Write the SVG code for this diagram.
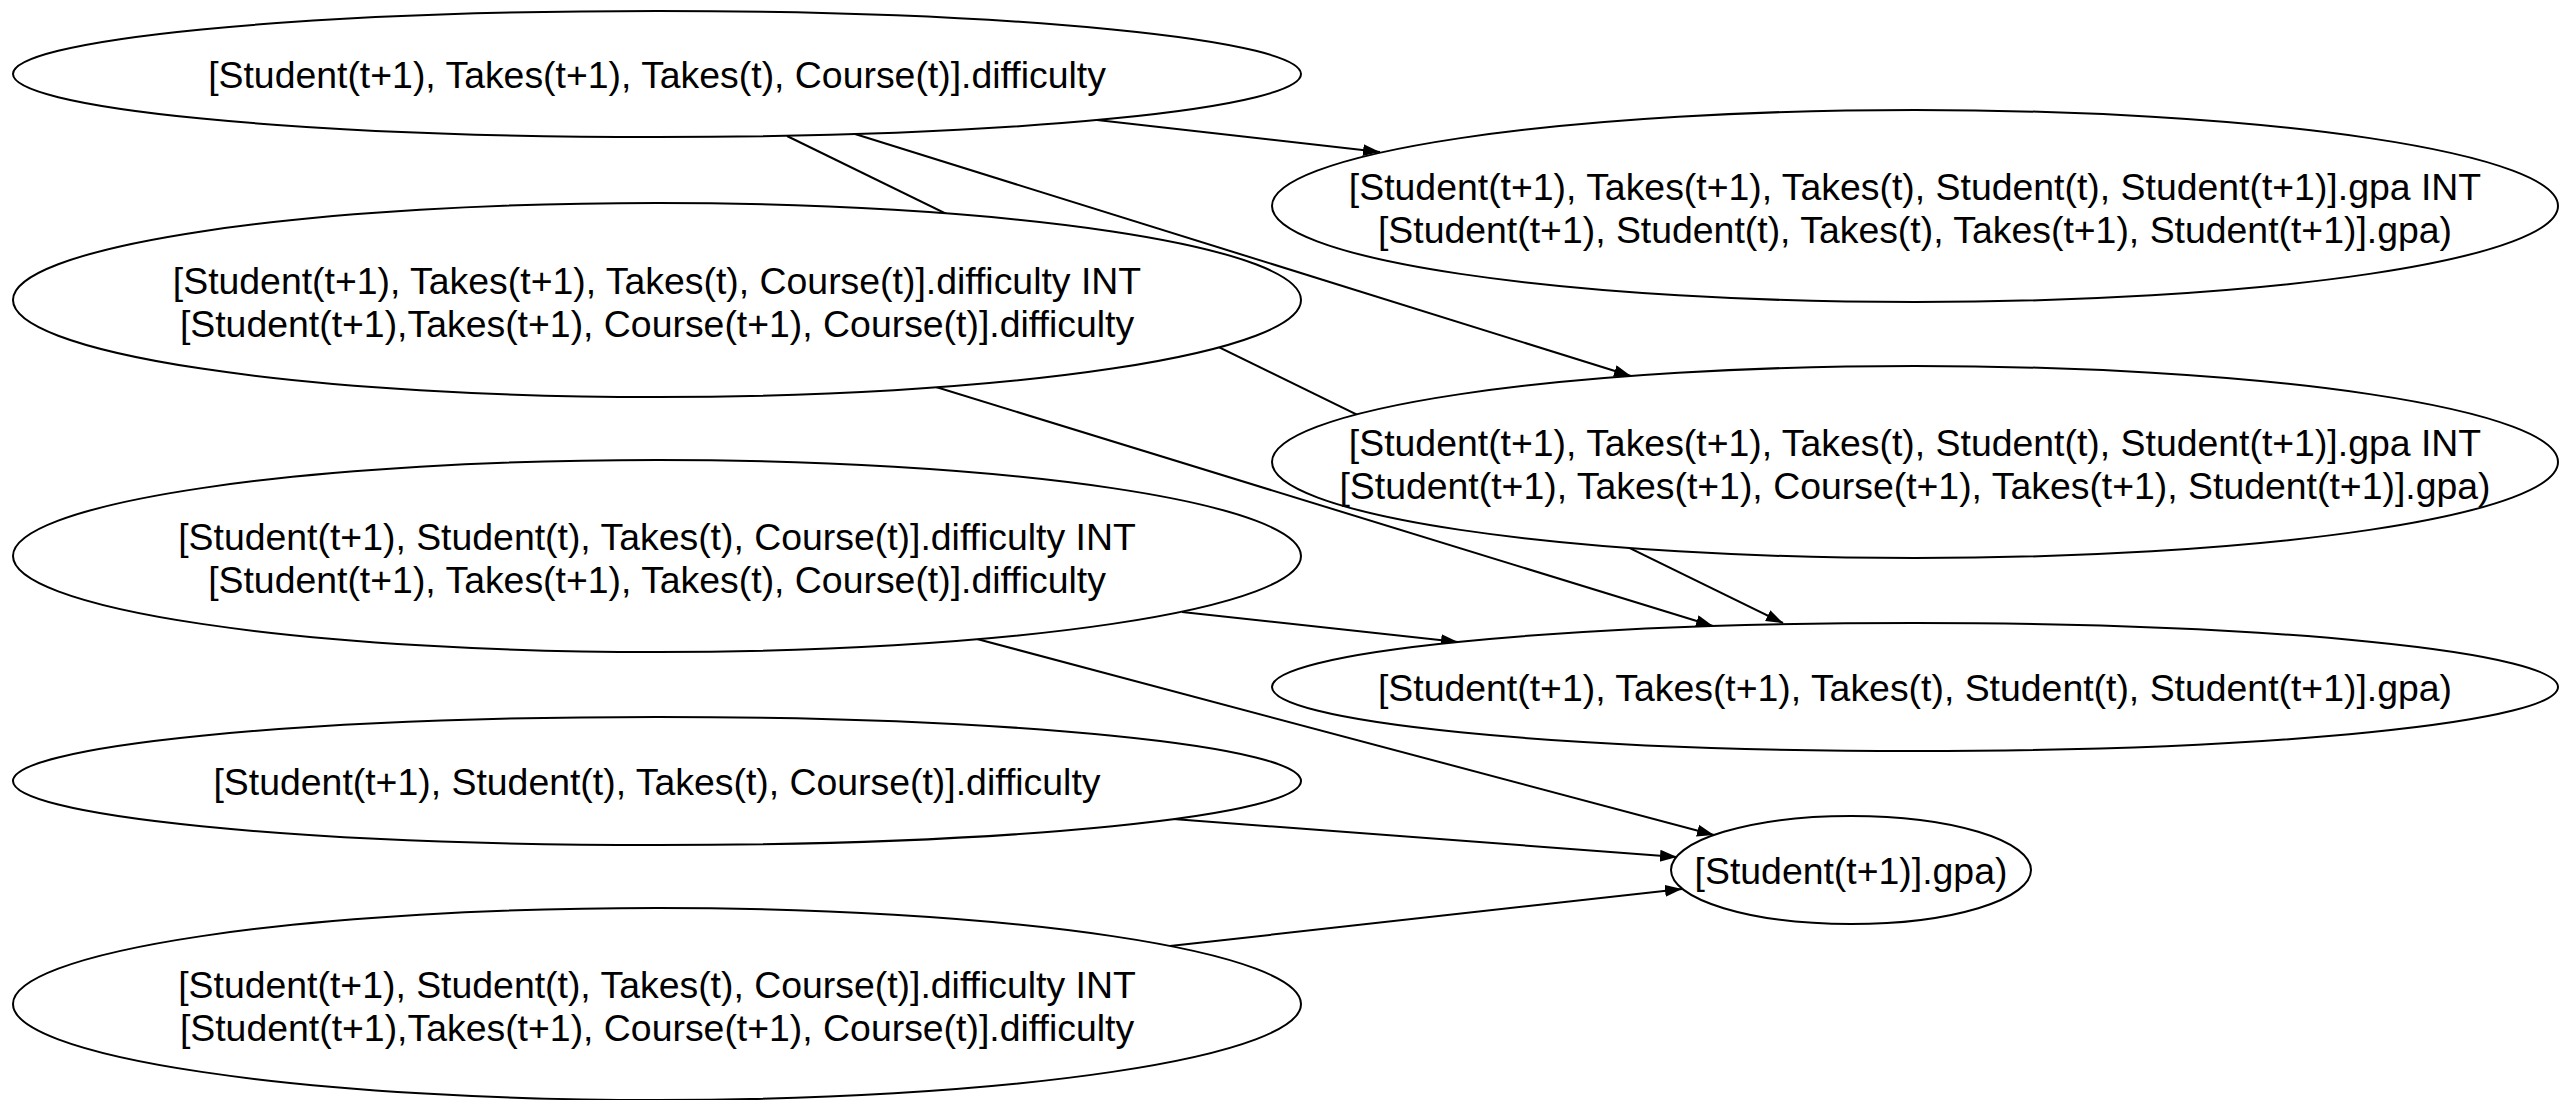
<svg xmlns="http://www.w3.org/2000/svg" width="2575" height="1100" viewBox="0 0 2575 1100">
  <style>
    .node ellipse { fill: #ffffff; stroke: #000000; stroke-width: 2; }
    .node text { font-family: "Liberation Sans", Arial, Helvetica, sans-serif; font-size: 37.4px; fill: #000000; text-anchor: middle; }
    .edge { fill: none; stroke: #000000; stroke-width: 2; marker-end: url(#arrow); }
  </style>
  <defs>
    <marker id="arrow" markerUnits="userSpaceOnUse" markerWidth="18" markerHeight="14" refX="17" refY="6" orient="auto">
      <path d="M0,0 L17,6 L0,12 z" fill="#000000"/>
    </marker>
  </defs>
  <rect width="2575" height="1100" fill="#ffffff"/>

  <!-- connectors are drawn first so the white node fills cover any crossing segments -->
  <g id="edges">
    <line class="edge" x1="1097" y1="120" x2="1380" y2="152"/>
    <line class="edge" x1="855" y1="134" x2="1631" y2="376"/>
    <line class="edge" x1="787" y1="136" x2="1783" y2="623"/>
    <line class="edge" x1="936" y1="387" x2="1713" y2="626"/>
    <line class="edge" x1="1182" y1="612" x2="1458" y2="642"/>
    <line class="edge" x1="977" y1="639" x2="1714" y2="835"/>
    <line class="edge" x1="1173" y1="819" x2="1677" y2="857"/>
    <line class="edge" x1="1170" y1="946" x2="1682" y2="889"/>
  </g>

  <g id="nodeA" class="node">
    <ellipse cx="657" cy="74" rx="644" ry="63"/>
    <text x="657" y="88">[Student(t+1), Takes(t+1), Takes(t), Course(t)].difficulty</text>
  </g>
  <g id="nodeB" class="node">
    <ellipse cx="657" cy="300" rx="644" ry="97"/>
    <text x="657" y="294">[Student(t+1), Takes(t+1), Takes(t), Course(t)].difficulty INT</text>
    <text x="657" y="337">[Student(t+1),Takes(t+1), Course(t+1), Course(t)].difficulty</text>
  </g>
  <g id="nodeC" class="node">
    <ellipse cx="657" cy="556" rx="644" ry="96"/>
    <text x="657" y="550">[Student(t+1), Student(t), Takes(t), Course(t)].difficulty INT</text>
    <text x="657" y="593">[Student(t+1), Takes(t+1), Takes(t), Course(t)].difficulty</text>
  </g>
  <g id="nodeD" class="node">
    <ellipse cx="657" cy="781" rx="644" ry="64"/>
    <text x="657" y="795">[Student(t+1), Student(t), Takes(t), Course(t)].difficulty</text>
  </g>
  <g id="nodeE" class="node">
    <ellipse cx="657" cy="1004" rx="644" ry="96"/>
    <text x="657" y="998">[Student(t+1), Student(t), Takes(t), Course(t)].difficulty INT</text>
    <text x="657" y="1041">[Student(t+1),Takes(t+1), Course(t+1), Course(t)].difficulty</text>
  </g>
  <g id="nodeF" class="node">
    <ellipse cx="1915" cy="206" rx="643" ry="96"/>
    <text x="1915" y="200">[Student(t+1), Takes(t+1), Takes(t), Student(t), Student(t+1)].gpa INT</text>
    <text x="1915" y="243">[Student(t+1), Student(t), Takes(t), Takes(t+1), Student(t+1)].gpa)</text>
  </g>
  <g id="nodeG" class="node">
    <ellipse cx="1915" cy="462" rx="643" ry="96"/>
    <text x="1915" y="456">[Student(t+1), Takes(t+1), Takes(t), Student(t), Student(t+1)].gpa INT</text>
    <text x="1915" y="499">[Student(t+1), Takes(t+1), Course(t+1), Takes(t+1), Student(t+1)].gpa)</text>
  </g>
  <g id="nodeH" class="node">
    <ellipse cx="1915" cy="687" rx="643" ry="64"/>
    <text x="1915" y="701">[Student(t+1), Takes(t+1), Takes(t), Student(t), Student(t+1)].gpa)</text>
  </g>
  <g id="nodeI" class="node">
    <ellipse cx="1851" cy="870" rx="180" ry="54"/>
    <text x="1851" y="884">[Student(t+1)].gpa)</text>
  </g>
</svg>
